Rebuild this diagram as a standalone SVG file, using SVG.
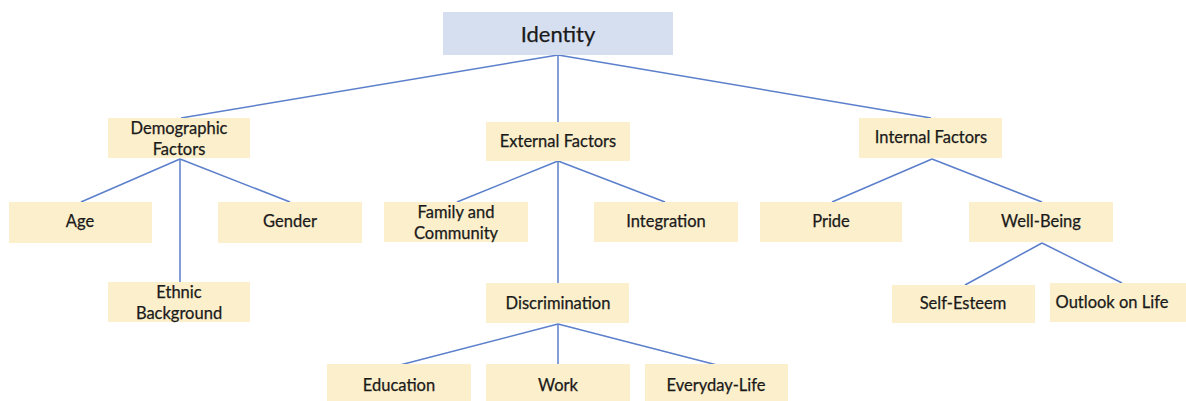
<svg xmlns="http://www.w3.org/2000/svg" width="1186" height="401" viewBox="0 0 1186 401">
  <style>
    .node rect { fill: #FCEFCB; }
    .root rect { fill: #D6DFF0; }
    text { font-family: Lato, "Open Sans", "Liberation Sans", sans-serif; fill: #1a1a1a; text-anchor: middle; font-size: 16.5px; stroke: #1a1a1a; stroke-width: 0.25; }
    .root text { font-size: 22px; }
    #connectors line { stroke: #5B7FCB; stroke-width: 1.5; }
  </style>
  <rect width="1186" height="401" fill="#ffffff"/>

  <g id="connectors">
    <!-- Identity -->
    <line x1="558" y1="55" x2="181" y2="118"/>
    <line x1="558" y1="55" x2="558" y2="122"/>
    <line x1="558" y1="55" x2="931" y2="118"/>
    <!-- Demographic Factors -->
    <line x1="180" y1="159" x2="81" y2="202"/>
    <line x1="180" y1="159" x2="180" y2="283"/>
    <line x1="180" y1="159" x2="290" y2="202"/>
    <!-- External Factors -->
    <line x1="558" y1="161" x2="457" y2="202"/>
    <line x1="558" y1="161" x2="558" y2="283"/>
    <line x1="558" y1="161" x2="665" y2="202"/>
    <!-- Discrimination -->
    <line x1="558" y1="324" x2="400" y2="365"/>
    <line x1="558" y1="324" x2="558" y2="365"/>
    <line x1="558" y1="324" x2="717" y2="365"/>
    <!-- Internal Factors -->
    <line x1="932" y1="159" x2="832" y2="202"/>
    <line x1="932" y1="159" x2="1042" y2="202"/>
    <!-- Well-Being -->
    <line x1="1042" y1="243" x2="965" y2="285"/>
    <line x1="1042" y1="243" x2="1122" y2="283"/>
  </g>

  <g id="identity" class="root">
    <rect x="443" y="12" width="230" height="43"/>
    <text x="558" y="42">Identity</text>
  </g>

  <g id="demographic" class="node">
    <rect x="108" y="118" width="142" height="40"/>
    <text x="179" y="134">Demographic</text>
    <text x="179" y="155">Factors</text>
  </g>
  <g id="external" class="node">
    <rect x="486" y="122" width="144" height="39"/>
    <text x="558" y="147">External Factors</text>
  </g>
  <g id="internal" class="node">
    <rect x="859" y="118" width="143" height="40"/>
    <text x="931" y="143">Internal Factors</text>
  </g>

  <g id="age" class="node">
    <rect x="9" y="202" width="143" height="41"/>
    <text x="80" y="227">Age</text>
  </g>
  <g id="gender" class="node">
    <rect x="218" y="202" width="144" height="41"/>
    <text x="290" y="227">Gender</text>
  </g>
  <g id="ethnic" class="node">
    <rect x="108" y="282" width="142" height="40"/>
    <text x="179" y="298">Ethnic</text>
    <text x="179" y="319">Background</text>
  </g>

  <g id="family" class="node">
    <rect x="384" y="202" width="144" height="40"/>
    <text x="456" y="218">Family and</text>
    <text x="456" y="239">Community</text>
  </g>
  <g id="integration" class="node">
    <rect x="594" y="202" width="144" height="40"/>
    <text x="666" y="227">Integration</text>
  </g>
  <g id="discrimination" class="node">
    <rect x="486" y="283" width="143" height="40"/>
    <text x="558" y="309">Discrimination</text>
  </g>

  <g id="education" class="node">
    <rect x="327" y="364" width="144" height="40"/>
    <text x="399" y="391">Education</text>
  </g>
  <g id="work" class="node">
    <rect x="486" y="364" width="144" height="40"/>
    <text x="558" y="391">Work</text>
  </g>
  <g id="everyday" class="node">
    <rect x="645" y="364" width="143" height="40"/>
    <text x="716" y="391">Everyday-Life</text>
  </g>

  <g id="pride" class="node">
    <rect x="760" y="202" width="142" height="40"/>
    <text x="831" y="227">Pride</text>
  </g>
  <g id="wellbeing" class="node">
    <rect x="969" y="202" width="144" height="40"/>
    <text x="1041" y="227">Well-Being</text>
  </g>
  <g id="selfesteem" class="node">
    <rect x="892" y="285" width="143" height="38"/>
    <text x="963" y="309">Self-Esteem</text>
  </g>
  <g id="outlook" class="node">
    <rect x="1050" y="283" width="136" height="39"/>
    <text x="1112" y="308">Outlook on Life</text>
  </g>
</svg>
